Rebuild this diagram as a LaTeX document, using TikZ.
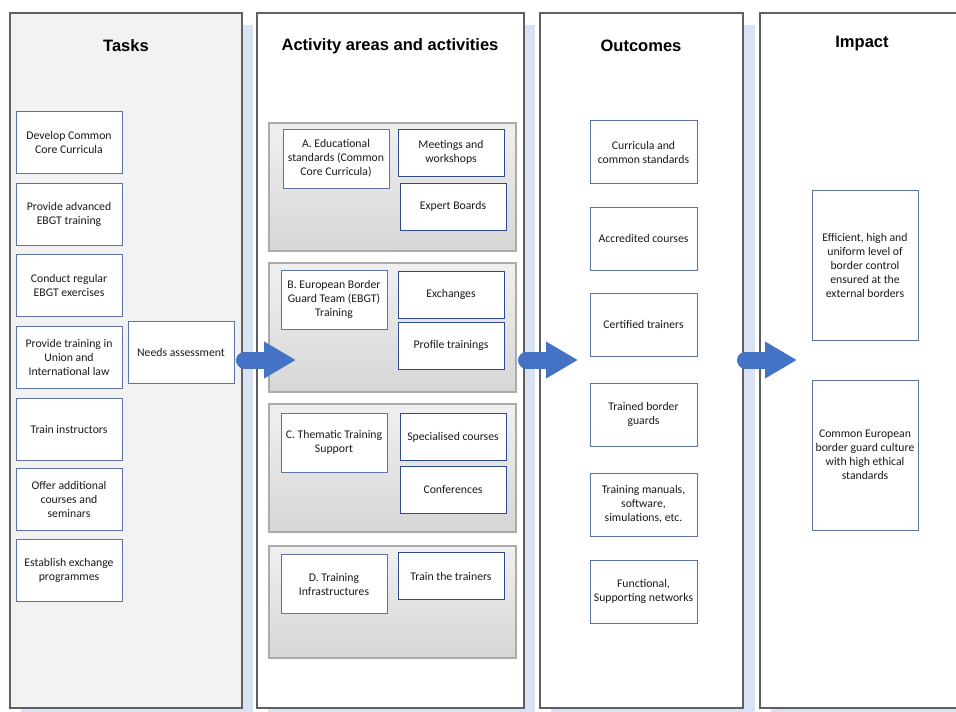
\documentclass[tikz,border=0pt]{standalone}
\usepackage{fontspec}
\setmainfont{Carlito}
\newfontfamily\headfont{Liberation Sans}
\usetikzlibrary{arrows.meta}
\definecolor{shadowblue}{HTML}{DAE3F3}
\definecolor{colframe}{HTML}{606060}
\definecolor{taskfill}{HTML}{F2F2F2}
\definecolor{boxline}{HTML}{5E72A4}
\definecolor{actline}{HTML}{2F4A8C}
\definecolor{grpline}{HTML}{ABABAB}
\definecolor{arrowblue}{HTML}{4472C4}
\definecolor{txt}{HTML}{1A1A1A}
\tikzset{
  column/.style={draw=colframe, line width=0.9pt},
  title/.style={font=\headfont\bfseries\fontsize{12.4}{14}\selectfont},
  box/.style={draw=boxline, line width=0.75pt, fill=white, text=txt, align=center,
    inner sep=1pt, font=\fontsize{8.8}{10.5}\selectfont,
    minimum width=79.5pt, minimum height=46.5pt},
  task/.style={box},
  actl/.style={box, minimum height=44.25pt},
  actr/.style={box, draw=actline, minimum height=35.25pt},
  outc/.style={box, minimum width=80.25pt, minimum height=47.25pt},
  imp/.style={box, minimum height=112.5pt},
  group/.style={draw=grpline, line width=0.8pt, top color=gray!12, bottom color=gray!32},
  bigarrow/.style={draw=arrowblue, line width=12.75pt, line cap=round,
    -{Triangle[length=24pt,width=26pt]}}
}
\begin{document}
\begin{tikzpicture}[x=0.75pt,y=-0.75pt]
  \useasboundingbox (0,0) rectangle (956,711);
  % columns
  \fill[shadowblue] (21,25) rectangle (253,722);
  \fill[shadowblue] (268,25) rectangle (535,722);
  \fill[shadowblue] (551,25) rectangle (755,722);
  \fill[shadowblue] (771,25) rectangle (980,722);
  \draw[column, fill=taskfill] (10,13) rectangle (242,708);
  \draw[column, fill=white] (257,13) rectangle (524,708);
  \draw[column, fill=white] (540,13) rectangle (743,708);
  \draw[column, fill=white] (760,13) rectangle (975,708);
  \node[title] (tasks) at (126,46) {Tasks};
  \node[title] (acts) at (390,46) {Activity areas and activities};
  \node[title] (outs) at (641,46) {Outcomes};
  \node[title] (imps) at (862,44) {Impact};

  % tasks
  \node[task] (t1) at (69,142) {Develop Common\\Core Curricula};
  \node[task] (t2) at (69,214) {Provide advanced\\EBGT training};
  \node[task] (t3) at (69,285) {Conduct regular\\EBGT exercises};
  \node[task] (t4) at (69,357) {Provide training in\\Union and\\International law};
  \node[task] (t5) at (69,429) {Train instructors};
  \node[task] (t6) at (69,499) {Offer additional\\courses and\\seminars};
  \node[task] (t7) at (69,570) {Establish exchange\\programmes};
  \node[task] (needs) at (181,352) {Needs assessment};

  % activity areas
  \draw[group] (269,123) rectangle (516,251);
  \draw[group] (269,263) rectangle (516,392);
  \draw[group] (269,404) rectangle (516,532);
  \draw[group] (269,546) rectangle (516,658);
  \node[actl] (a) at (336,158.5) {A. Educational\\standards (Common\\Core Curricula)};
  \node[actr] (a1) at (451,152.5) {Meetings and\\workshops};
  \node[actr] (a2) at (453,206.5) {Expert Boards};
  \node[actl] (b) at (334,299.5) {B. European Border\\Guard Team (EBGT)\\Training};
  \node[actr] (b1) at (451,294.5) {Exchanges};
  \node[actr] (b2) at (451,345.5) {Profile trainings};
  \node[actl] (c) at (334,442.5) {C. Thematic Training\\Support};
  \node[actr] (c1) at (453,437) {Specialised courses};
  \node[actr] (c2) at (453,489.5) {Conferences};
  \node[actl] (d) at (334,584) {D. Training\\Infrastructures};
  \node[actr] (d1) at (451,576) {Train the trainers};

  % outcomes
  \node[outc] (o1) at (643.5,152) {Curricula and\\common standards};
  \node[outc] (o2) at (643.5,238.5) {Accredited courses};
  \node[outc] (o3) at (643.5,324.5) {Certified trainers};
  \node[outc] (o4) at (643.5,414.5) {Trained border\\guards};
  \node[outc] (o5) at (643.5,504.5) {Training manuals,\\software,\\simulations, etc.};
  \node[outc] (o6) at (643.5,591.5) {Functional,\\Supporting networks};

  % impact
  \node[imp] (i1) at (865,265) {Efficient, high and\\uniform level of\\border control\\ensured at the\\external borders};
  \node[imp] (i2) at (865,455) {Common European\\border guard culture\\with high ethical\\standards};

  \coordinate (s1) at (244.5,360);
  \coordinate (e1) at (296,360);
  \coordinate (s2) at (526.5,360);
  \coordinate (e2) at (578,360);
  \coordinate (s3) at (745.5,360);
  \coordinate (e3) at (797,360);
  \begin{scope}[bigarrow]
    \draw (s1) -- (e1);
    \draw (s2) -- (e2);
    \draw (s3) -- (e3);
  \end{scope}
\end{tikzpicture}
\end{document}
